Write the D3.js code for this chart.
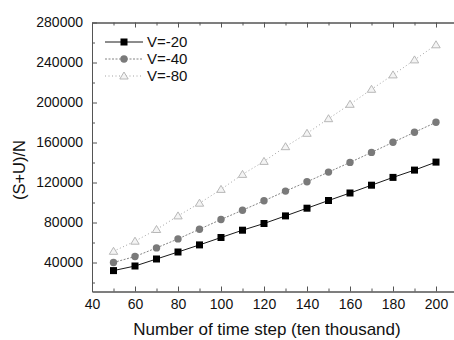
<!DOCTYPE html>
<html>
<head>
<meta charset="utf-8">
<script src="https://cdn.jsdelivr.net/npm/d3@7"></script>
<style>
  html, body { margin: 0; padding: 0; background: #fff; }
  svg { display: block; font-family: "Liberation Sans", Arial, sans-serif; }
</style>
</head>
<body>
<svg id="chart" width="454" height="340"></svg>
<script>
const steps = [50, 60, 70, 80, 90, 100, 110, 120, 130, 140, 150, 160, 170, 180, 190, 200];
const v20 = [31900, 36500, 43500, 50500, 57600, 65000, 72300, 79000, 86600, 94300, 102000, 109500, 117300, 125100, 132400, 140400];
const v40 = [40000, 46000, 54600, 63600, 73300, 83000, 92300, 101700, 111400, 120700, 130400, 140100, 150100, 160200, 170200, 180200];
const v80 = [51200, 61300, 73000, 86600, 99300, 113100, 128100, 141100, 155800, 169200, 183800, 198200, 213200, 227600, 242600, 257700];
const seriesNames = ["V=-20", "V=-40", "V=-80"];
const xTicks = [40, 60, 80, 100, 120, 140, 160, 180, 200];
const yTicks = [40000, 80000, 120000, 160000, 200000, 240000, 280000];
const xTitle = "Number of time step (ten thousand)";
const yTitle = "(S+U)/N";

const svg = d3.select("#chart");
const x = d3.scaleLinear().domain([40, 210]).range([92, 457.5]);
const y = d3.scaleLinear().domain([11000, 280000]).range([291.5, 22.5]);

const series = [
  { name: seriesNames[0], values: v20, shape: "square", stroke: "#000", fill: "#000", lineColor: "#000", dash: null },
  { name: seriesNames[1], values: v40, shape: "circle", stroke: "#7a7a7a", fill: "#7a7a7a", lineColor: "#777", dash: "2,1.5" },
  { name: seriesNames[2], values: v80, shape: "triangle", stroke: "#b0b0b0", fill: "#f4f4f4", lineColor: "#999", dash: "1,2.5" }
];

const xMinor = d3.range(40, 211, 10);
const yMinor = d3.range(20000, 280001, 20000);

const g = svg.append("g");
g.append("g").attr("transform", `translate(0,${y.range()[0]})`)
  .call(d3.axisBottom(x).tickValues(xTicks).tickSize(-5).tickSizeOuter(0).tickPadding(8).tickFormat(d3.format("d")));
g.append("g").attr("transform", `translate(0,${y.range()[0]})`)
  .call(d3.axisBottom(x).tickValues(xMinor.filter(v => !xTicks.includes(v))).tickSize(-3).tickSizeOuter(0).tickFormat(""));
g.append("g").attr("transform", `translate(0,${y.range()[1]})`)
  .call(d3.axisTop(x).tickValues(xTicks).tickSize(-5).tickSizeOuter(0).tickFormat(""));
g.append("g").attr("transform", `translate(0,${y.range()[1]})`)
  .call(d3.axisTop(x).tickValues(xMinor.filter(v => !xTicks.includes(v))).tickSize(-3).tickSizeOuter(0).tickFormat(""));
g.append("g").attr("transform", `translate(${x.range()[0]},0)`)
  .call(d3.axisLeft(y).tickValues(yTicks).tickSize(-5).tickSizeOuter(0).tickPadding(9).tickFormat(d3.format("d")));
g.append("g").attr("transform", `translate(${x.range()[0]},0)`)
  .call(d3.axisLeft(y).tickValues(yMinor.filter(v => !yTicks.includes(v))).tickSize(-3).tickSizeOuter(0).tickFormat(""));

g.selectAll(".domain").attr("stroke", "#555").attr("stroke-width", 1);
g.selectAll(".tick line").attr("stroke", "#555");
g.selectAll(".tick text").attr("font-size", 14).attr("fill", "#111")
  .attr("font-family", "'Liberation Sans', Arial, sans-serif");

svg.append("text").attr("x", 267).attr("y", 335).attr("text-anchor", "middle")
  .attr("font-size", 17).attr("fill", "#111").text(xTitle);
svg.append("text").attr("transform", "translate(25,170) rotate(-90)").attr("text-anchor", "middle")
  .attr("font-size", 16.5).attr("fill", "#111").text(yTitle);

function drawMarker(sel, s, cx, cy) {
  if (s.shape === "square") {
    sel.append("rect").attr("x", cx - 3.5).attr("y", cy - 3.5).attr("width", 7).attr("height", 7)
      .attr("fill", s.fill);
  } else if (s.shape === "circle") {
    sel.append("circle").attr("cx", cx).attr("cy", cy).attr("r", 3.7).attr("fill", s.fill);
  } else {
    sel.append("path").attr("d", `M${cx},${cy - 4} L${cx + 4.2},${cy + 3} L${cx - 4.2},${cy + 3} Z`)
      .attr("fill", s.fill).attr("stroke", s.stroke).attr("stroke-width", 0.9);
  }
}

const line = d3.line().x(d => x(d[0])).y(d => y(d[1]));
const plot = svg.append("g");
series.slice().reverse().forEach(s => {
  const pts = steps.map((t, i) => [t, s.values[i]]);
  plot.append("path").datum(pts).attr("d", line).attr("fill", "none")
    .attr("stroke", s.lineColor).attr("stroke-width", 0.9)
    .attr("stroke-dasharray", s.dash);
  const mg = plot.append("g");
  pts.forEach(p => drawMarker(mg, s, x(p[0]), y(p[1])));
});

const legY = [42, 59, 76];
series.forEach((s, i) => {
  const lg = svg.append("g");
  lg.append("line").attr("x1", 105).attr("x2", 143).attr("y1", legY[i]).attr("y2", legY[i])
    .attr("stroke", s.lineColor).attr("stroke-width", 0.9).attr("stroke-dasharray", s.dash);
  drawMarker(lg, s, 124, legY[i]);
  lg.append("text").attr("x", 147).attr("y", legY[i]).attr("dy", "0.36em")
    .attr("font-size", 15).attr("fill", "#111").text(s.name);
});
</script>
</body>
</html>
